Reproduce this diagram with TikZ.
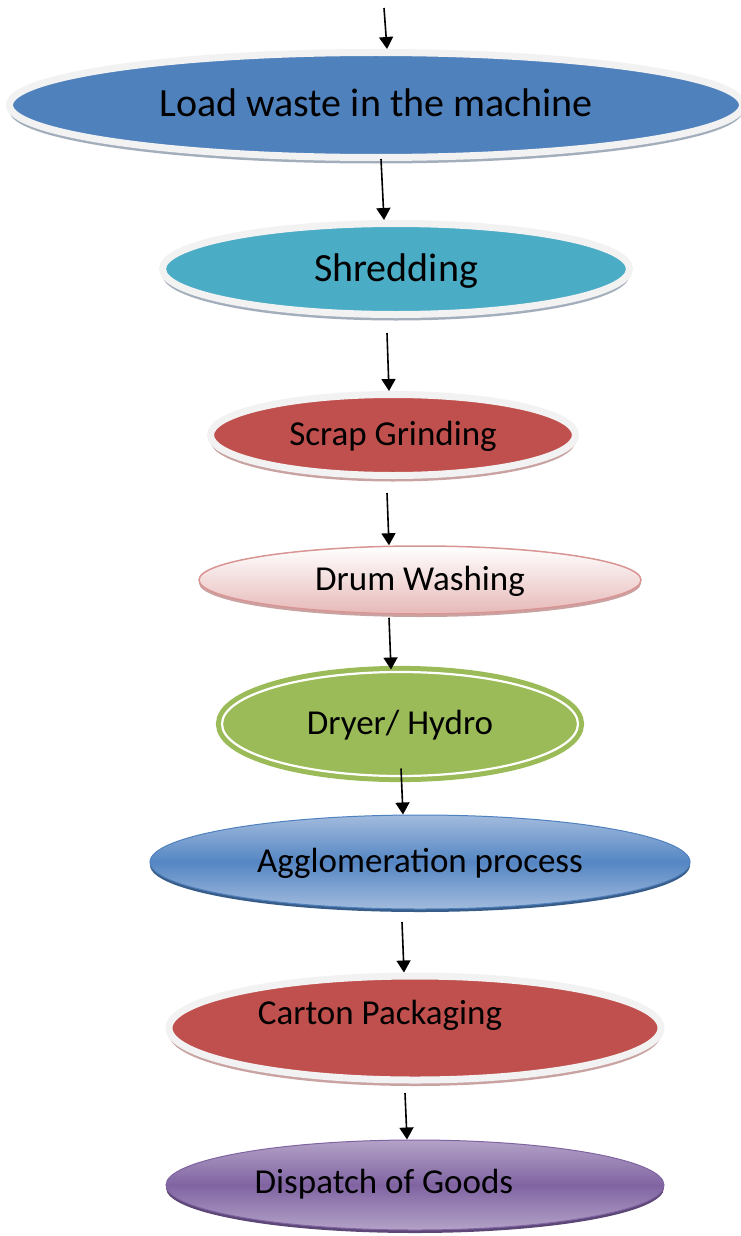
\documentclass[tikz,border=0pt]{standalone}
\usepackage{fontspec}
\setmainfont{Carlito}
\usetikzlibrary{shapes.geometric,arrows.meta,shadows}
\definecolor{blueA}{HTML}{4F81BD}
\definecolor{tealA}{HTML}{4BACC6}
\definecolor{redA}{HTML}{C0504D}
\definecolor{rimA}{HTML}{F2F2F2}
\definecolor{shA}{HTML}{A3AEBD}
\definecolor{shR}{HTML}{C9A3A2}
\definecolor{pinkB}{HTML}{D99594}
\definecolor{pinkF}{HTML}{E6B9B8}
\definecolor{greenA}{HTML}{9BBB59}
\definecolor{blueL}{HTML}{A2BBDD}
\definecolor{blueM}{HTML}{5586C3}
\definecolor{blueD}{HTML}{385D8A}
\definecolor{purL}{HTML}{B3A2C7}
\definecolor{purM}{HTML}{8064A2}
\definecolor{purD}{HTML}{5C4776}
\tikzset{
 stage/.style={ellipse, inner sep=0pt},
 rimmed/.style={stage, draw=rimA, line width=7pt,
   drop shadow={shadow xshift=0pt, shadow yshift=-6pt, fill=#1, opacity=1}},
 flatshadow/.style={drop shadow={shadow xshift=0pt, shadow yshift=-3pt, fill=#1, opacity=1}},
 bigtxt/.style={font=\fontsize{40}{48}\selectfont, text height=32pt, text depth=8pt},
 txt/.style={font=\fontsize{35}{42}\selectfont, text height=28pt, text depth=7pt},
 arr/.style={line width=1.6pt, -{Triangle[width=14pt,length=12pt]}},
}
\begin{document}
\begin{tikzpicture}[x=1pt,y=-1pt]
\useasboundingbox (0,0) rectangle (740,1236);
\node[rimmed=shA, fill=blueA, minimum width=733pt, minimum height=105pt, bigtxt] (n1) at (376,105) {Load waste in the machine};
\node[rimmed=shA, fill=tealA, minimum width=467pt, minimum height=91pt, bigtxt] (n2) at (396,269) {Shredding};
\node[rimmed=shR, fill=redA, minimum width=365pt, minimum height=81pt, txt] (n3) at (393,435) {Scrap Grinding};
\node[stage, draw=pinkB, line width=1.5pt, top color=white, bottom color=pinkF, flatshadow=shR, minimum width=442pt, minimum height=68pt, txt] (n4) at (420,580) {Drum Washing};
\node[stage, fill=greenA, draw=greenA, double=white, double distance=2.2pt, line width=5pt, minimum width=356pt, minimum height=104pt, txt] (n5) at (400,724) {Dryer/ Hydro};
\node[stage, draw=blueA, line width=1pt, top color=blueL, bottom color=blueL, middle color=blueM, flatshadow=blueD, minimum width=540pt, minimum height=94pt, txt] (n6) at (420,862) {Agglomeration process};
\node[rimmed=shR, fill=redA, minimum width=492pt, minimum height=104pt] (n7) at (415,1028) {};
\node[txt] (t7) at (380,1014) {Carton Packaging};
\node[stage, draw=purM, line width=1pt, top color=purL, bottom color=purL, middle color=purM, flatshadow=purD, minimum width=498pt, minimum height=90pt] (n8) at (415,1185) {};
\node[txt] (t8) at (384,1183) {Dispatch of Goods};
\coordinate (s0) at (384,8);
\draw[arr] (s0) -- ([xshift=11pt]n1.north);
\draw[arr] ([xshift=5pt,yshift=2pt]n1.south) -- ([xshift=-12pt]n2.north);
\draw[arr] ([xshift=-9pt,yshift=-15pt]n2.south) -- ([xshift=-4pt]n3.north);
\draw[arr] ([xshift=-6pt,yshift=-14pt]n3.south) -- ([xshift=-31pt]n4.north);
\draw[arr] ([xshift=-31pt,yshift=-3pt]n4.south) -- ([xshift=-9pt]n5.north);
\draw[arr] ([xshift=1pt,yshift=10pt]n5.south) -- ([xshift=-17pt]n6.north);
\draw[arr] ([xshift=-18pt,yshift=-12.5pt]n6.south) -- ([xshift=-11pt]n7.north);
\draw[arr] ([xshift=-10pt,yshift=-9.5pt]n7.south) -- ([xshift=-8pt]n8.north);
\end{tikzpicture}
\end{document}
